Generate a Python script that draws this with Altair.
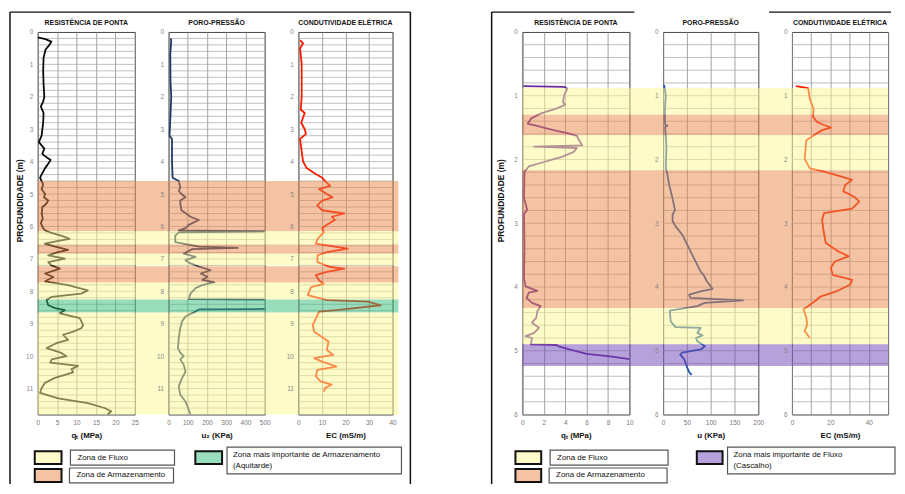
import altair as alt
import pandas as pd

# ---------------- LEFT FIGURE (depth 0 - 11.8 m) ----------------
L_QT_DEPTH = [0.17, 0.22, 0.30, 0.40, 0.55, 0.80, 1.20, 1.60, 2.00, 2.15, 2.30, 2.50, 2.80, 3.00, 3.20,
              3.40, 3.60, 3.75, 3.80, 3.95, 4.10, 4.20, 4.35, 4.50, 4.70, 4.85, 5.00, 5.10, 5.20, 5.30,
              5.40, 5.60, 5.75, 5.90, 6.05, 6.12, 6.18, 6.28, 6.38, 6.45, 6.53, 6.62, 6.72, 6.80, 6.89,
              6.99, 7.10, 7.20, 7.30, 7.45, 7.56, 7.69, 7.81, 7.97, 8.07, 8.17, 8.27, 8.43, 8.52, 8.58,
              8.68, 8.83, 9.04, 9.14, 9.25, 9.34, 9.50, 9.60, 9.75, 9.90, 10.00, 10.10, 10.20, 10.30,
              10.40, 10.50, 10.67, 10.82, 10.98, 11.13, 11.30, 11.45, 11.60, 11.70, 11.80]
L_QT_MPA = [0.0, 2.0, 3.5, 3.0, 2.0, 1.5, 1.4, 1.5, 1.7, 1.4, 0.8, 1.5, 1.4, 1.2, 1.0,
            0.3, 1.7, 1.2, 1.5, 3.3, 2.5, 1.9, 1.2, 0.6, 1.4, 1.0, 1.9, 1.6, 2.7, 2.2,
            1.2, 1.0, 1.3, 0.8, 1.4, 1.9, 3.1, 6.0, 8.2, 5.0, 1.8, 4.5, 7.8, 5.0, 2.7,
            7.0, 2.7, 3.5, 5.7, 1.9, 4.0, 1.9, 7.8, 12.9, 11.2, 3.6, 2.3, 2.7, 4.5, 7.0,
            5.7, 10.8, 11.7, 11.2, 9.0, 6.5, 7.8, 4.8, 2.3, 6.1, 7.4, 3.6, 3.2, 10.4,
            8.7, 9.1, 4.4, 1.9, 1.0, 0.6, 5.3, 12.9, 17.2, 18.9, 18.0]

L_U2_DEPTH = [0.20, 0.25, 0.70, 1.50, 2.00, 2.70, 3.20, 3.30, 4.00, 4.50, 4.60, 4.80, 4.90, 5.00, 5.10,
              5.20, 5.30, 5.50, 5.70, 5.80, 5.95, 6.05, 6.12, 6.15, 6.18, 6.28, 6.48, 6.62, 6.66, 6.70,
              6.84, 6.94, 7.04, 7.14, 7.24, 7.35, 7.45, 7.55, 7.65, 7.72, 7.81, 7.90, 8.07, 8.24, 8.26,
              8.54, 8.56, 8.65, 8.72, 8.78, 8.93, 9.13, 9.44, 9.75, 9.90, 10.00, 10.10, 10.27, 10.48,
              10.68, 10.93, 11.19, 11.40, 11.60, 11.80]
L_U2_KPA = [10, 14, 9, 10, 14, 9, 5, 18, 18, 21, 53, 61, 53, 67, 88,
            61, 61, 67, 114, 158, 105, 88, 53, 560, 53, 35, 35, 158, 360, 123,
            79, 140, 88, 114, 158, 219, 167, 202, 175, 237, 175, 140, 114, 105, 600,
            600, 158, 132, 105, 88, 70, 61, 53, 49, 61, 79, 61, 79, 88,
            70, 53, 61, 88, 102, 114]

L_EC_DEPTH = [0.25, 0.35, 0.50, 1.00, 2.00, 2.40, 2.50, 2.80, 3.00, 3.15, 3.30, 3.80, 4.00, 4.20, 4.35,
              4.50, 4.65, 4.75, 4.85, 5.00, 5.10, 5.20, 5.35, 5.50, 5.60, 5.70, 5.80, 5.95, 6.05, 6.18,
              6.38, 6.53, 6.68, 6.79, 6.89, 7.10, 7.25, 7.30, 7.40, 7.50, 7.66, 7.77, 7.87, 8.12, 8.27,
              8.32, 8.43, 8.58, 8.63, 8.84, 9.04, 9.25, 9.55, 9.81, 9.96, 10.06, 10.17, 10.32, 10.42,
              10.62, 10.78, 10.88, 10.98, 11.10]
L_EC_MSM = [0.7, 2.0, 0.7, 1.4, 1.4, 1.0, 2.7, 1.2, 2.7, 3.2, 0.7, 1.6, 2.0, 3.5, 6.7,
            10.1, 12.0, 13.5, 8.8, 12.1, 14.5, 10.1, 8.0, 10.1, 19.5, 14.2, 15.5, 12.1, 10.1, 10.8,
            8.1, 7.4, 20.9, 12.1, 8.1, 8.1, 13.5, 19.5, 12.1, 7.4, 8.8, 10.8, 5.4, 4.0, 12.1,
            29.6, 35.0, 16.2, 8.8, 7.4, 6.1, 6.7, 12.8, 12.1, 14.8, 6.7, 10.1, 16.2, 8.1,
            7.4, 9.4, 14.1, 11.4, 10.8]

L_ZONE_TOP = [4.60, 6.15, 6.56, 6.84, 7.23, 7.73, 8.25, 8.65]
L_ZONE_BOT = [6.15, 6.56, 6.84, 7.20, 7.73, 8.25, 8.65, 11.80]
L_ZONE_TYPE = ["Armazenamento", "Fluxo", "Armazenamento", "Fluxo", "Armazenamento", "Fluxo",
               "Aquitarde", "Fluxo"]

# ---------------- RIGHT FIGURE (depth 0 - 6 m) ----------------
R_QT_DEPTH = [0.85, 0.86, 0.89, 0.99, 1.10, 1.14, 1.20, 1.28, 1.36, 1.44, 1.46, 1.54, 1.59, 1.63, 1.70,
              1.78, 1.80, 1.82, 1.88, 1.96, 2.04, 2.11, 2.19, 2.60, 2.79, 2.86, 3.40, 3.86, 3.99, 4.06,
              4.09, 4.17, 4.25, 4.30, 4.38, 4.48, 4.56, 4.64, 4.72, 4.77, 4.80, 4.90, 4.91, 4.93, 4.98,
              5.05, 5.09, 5.13]
R_QT_MPA = [0.1, 3.9, 4.2, 3.9, 3.8, 4.0, 3.2, 1.7, 0.8, 0.5, 1.1, 2.9, 4.3, 5.1, 5.3,
            5.6, 1.1, 5.1, 4.8, 3.7, 2.0, 0.6, 0.2, 0.15, 0.45, 0.15, 0.2, 0.15, 0.3, 1.4,
            0.6, 0.4, 0.9, 1.7, 1.4, 1.3, 0.9, 1.55, 1.1, 0.3, 0.9, 0.8, 3.2, 3.4, 4.4,
            6.0, 8.2, 10.0]

R_U_DEPTH = [0.83, 0.99, 1.25, 1.45, 1.47, 1.49, 1.78, 2.14, 2.19, 2.40, 2.61, 2.79, 2.87, 2.97, 3.05,
             3.18, 3.34, 3.55, 3.76, 3.81, 3.91, 4.03, 4.07, 4.12, 4.17, 4.21, 4.25, 4.30, 4.37, 4.54,
             4.63, 4.64, 4.72, 4.76, 4.80, 4.85, 4.93, 4.98, 5.03, 5.06, 5.14, 5.21, 5.27, 5.34, 5.38]
R_U_KPA = [2, 5.7, 3.5, 4.3, 9, 4.3, 7, 5.7, 7.8, 12.8, 19.9, 24.8, 19.9, 20, 26.2,
           40.4, 51, 65, 79, 85, 92, 104, 79, 55, 57, 168, 87, 72, 14, 16,
           26, 79, 72, 83, 69, 72, 88, 79, 40, 36, 45, 48, 51, 55, 60]

R_EC_DEPTH = [0.85, 0.88, 1.05, 1.20, 1.33, 1.41, 1.46, 1.50, 1.54, 1.59, 1.70, 1.99, 2.14, 2.19, 2.27,
              2.32, 2.40, 2.50, 2.58, 2.66, 2.77, 2.84, 2.95, 3.13, 3.31, 3.44, 3.52, 3.60, 3.70, 3.81,
              3.89, 3.96, 4.07, 4.15, 4.22, 4.30, 4.35, 4.48, 4.59, 4.69, 4.80]
R_EC_MSM = [2.0, 8.4, 9.3, 11.2, 11.0, 13.0, 16.7, 20.3, 15.7, 13.0, 7.5, 6.6, 9.3, 16.7, 25.8,
            31.3, 27.7, 26.7, 32.2, 35.0, 31.3, 16.7, 15.7, 16.5, 17.6, 24.0, 29.5, 22.2, 20.3, 21.2,
            31.3, 30.4, 23.1, 14.8, 12.1, 8.4, 6.0, 7.5, 7.9, 6.6, 9.3]

R_ZONE_TOP = [0.88, 1.30, 1.62, 2.17, 4.33, 4.90]
R_ZONE_BOT = [1.30, 1.62, 2.17, 4.33, 4.90, 5.24]
R_ZONE_TYPE = ["Fluxo", "Armazenamento", "Fluxo", "Armazenamento", "Fluxo", "Cascalho"]

# ---------------- shared text / styles ----------------
ZONE_TYPES = ["Fluxo", "Armazenamento", "Aquitarde", "Cascalho"]
ZONE_OVERLAY = ["#FBF78F", "#E7874A", "#35BB7B", "#6F43B7"]

TRACK_TITLES = ["RESISTÊNCIA DE PONTA", "PORO-PRESSÃO", "CONDUTIVIDADE ELÉTRICA"]
Y_TITLE = "PROFUNDIDADE (m)"
L_X_TITLES = ["qₜ (MPa)", "u₂ (KPa)", "EC (mS/m)"]
R_X_TITLES = ["qₜ (MPa)", "u (KPa)", "EC (mS/m)"]
L_X_DOMAINS = [[0, 25], [0, 500], [0, 40]]
L_X_TICKS = [[0, 5, 10, 15, 20, 25], [0, 100, 200, 300, 400, 500], [0, 10, 20, 30, 40]]
R_X_DOMAINS = [[0, 10], [0, 200], [0, 50]]
R_X_TICKS = [[0, 2, 4, 6, 8, 10], [0, 50, 100, 150, 200], [0, 10, 20, 30, 40, 50]]
L_COLORS = ["#0A0A0A", "#1F3864", "#FF1800"]
R_COLORS = ["#6A2A9C", "#1F5AA8", "#FF2000"]

L_LEGEND_ZONES = ["Fluxo", "Armazenamento", "Aquitarde"]
R_LEGEND_ZONES = ["Fluxo", "Armazenamento", "Cascalho"]
L_LEGEND_TEXT = ["Zona de Fluxo", "Zona de Armazenamento",
                 "Zona mais importante de  Armazenamento", "(Aquitarde)"]
R_LEGEND_TEXT = ["Zona de Fluxo", "Zona de Armazenamento",
                 "Zona mais importante de  Fluxo", "(Cascalho)"]

FONT = "Liberation Sans"
H = 386
ZONE_SCALE = alt.Scale(domain=ZONE_TYPES, range=ZONE_OVERLAY)


def legend_layers(zones, texts, lay, top):
    W = 400
    xs = alt.Scale(domain=[0, W], range=[0, W], nice=False, zero=False)
    ys = alt.Scale(domain=[0, 40], range=[top, top + 40], nice=False, zero=False)
    sw = pd.DataFrame({"x": lay["sx"], "x2": lay["sx2"], "y": lay["sy"], "y2": lay["sy2"],
                       "zone": zones})
    bx = pd.DataFrame({"x": lay["bx"], "x2": lay["bx2"], "y": lay["by"], "y2": lay["by2"]})
    tx = pd.DataFrame({"x": lay["tx"], "y": lay["ty"], "t": texts})
    boxes = alt.Chart(bx).mark_rect(fill="white", stroke="#555555", strokeWidth=1.2).encode(
        x=alt.X("x:Q", scale=xs, axis=None), x2="x2:Q",
        y=alt.Y("y:Q", scale=ys, axis=None), y2="y2:Q")
    swatches = alt.Chart(sw).mark_rect(stroke="#111111", strokeWidth=2, fillOpacity=0.5,
                                       strokeOpacity=1).encode(
        x=alt.X("x:Q", scale=xs, axis=None), x2="x2:Q",
        y=alt.Y("y:Q", scale=ys, axis=None), y2="y2:Q",
        color=alt.Color("zone:N", scale=ZONE_SCALE, legend=None))
    labels = alt.Chart(tx).mark_text(align="left", baseline="middle", fontSize=8,
                                     color="#111111", font=FONT).encode(
        x=alt.X("x:Q", scale=xs, axis=None), y=alt.Y("y:Q", scale=ys, axis=None), text="t:N")
    return [boxes, swatches, labels]


def track(depth, vals, color, ztop, zbot, ztype, xdom, xticks, xtitle, title,
          ymax, width, ext, ytitle=None, ytitle_pad=1, xlabel_expr=None, legend=None):
    df = pd.DataFrame({"d": depth, "v": vals})
    zdf = pd.DataFrame({"top": ztop, "bot": zbot, "zone": ztype})
    gdf = pd.DataFrame({"g": [round(i * 0.2, 1) for i in range(1, int(round(ymax / 0.2)))]})
    yscale = alt.Scale(domain=[0, ymax], reverse=True, nice=False, zero=False)
    xax = dict(values=xticks, title=xtitle, grid=True, gridColor="#8a8a8a", gridWidth=0.8,
               ticks=False, domain=False, labelFontSize=6.5, labelColor="#777777",
               labelPadding=5, labelFlush=False, labelOverlap=False, titleFontSize=8,
               titleFontWeight="bold", titleColor="#111111", titlePadding=6)
    if xlabel_expr:
        xax["labelExpr"] = xlabel_expr
    yax = dict(values=list(range(int(ymax) + 1)), grid=False, ticks=False, domain=False,
               labelFontSize=6.5, labelColor="#888888", labelPadding=5, labelOverlap=False)
    if ytitle:
        yax.update(title=ytitle, titleFontSize=8.5, titleFontWeight="bold",
                   titleColor="#111111", titlePadding=ytitle_pad, titleY=H * 0.44)
    else:
        yax["title"] = ""
    grid = alt.Chart(gdf).mark_rule(color="#a4a4a4", strokeWidth=0.7).encode(
        y=alt.Y("g:Q", scale=yscale, axis=None), x=alt.value(0), x2=alt.value(width))
    line = alt.Chart(df).mark_line(color=color, strokeWidth=1.8, clip=True,
                                   strokeJoin="round").encode(
        x=alt.X("v:Q", scale=alt.Scale(domain=xdom, nice=False, zero=False), axis=alt.Axis(**xax)),
        y=alt.Y("d:Q", scale=yscale, axis=alt.Axis(**yax)),
        order=alt.Order("d:Q"),
    )
    zones = alt.Chart(zdf).mark_rect(opacity=0.5).encode(
        y=alt.Y("top:Q", scale=yscale, axis=None), y2="bot:Q",
        x=alt.value(0), x2=alt.value(width + ext),
        color=alt.Color("zone:N", scale=ZONE_SCALE, legend=None),
    )
    layers = [grid, line, zones]
    if legend:
        layers += legend
    return alt.layer(*layers).resolve_scale(x="independent", y="independent").properties(
        width=width, height=H,
        title=alt.TitleParams(text=title, fontSize=7, fontWeight="bold", color="#111111",
                              offset=3, anchor="middle", frame="group"),
    )


SP = 34
LW = [98, 97, 95]
LEXT = [SP, SP, 6]
RW = [108, 96, 97]
REXT = [SP, SP, 0]
SPACER_W = 63
LEG_TOP = 418

# figure frames, drawn from the spacer between the two figures (x relative to spacer's left)
FRAMES = [("v", -420, -20, 456), ("h", -20, -420, -16), ("v", -16, -20, 456),
          ("v", 66, -20, 456), ("h", -20, 66, 210), ("h", -20, 346, 469)]

l_lay = dict(sx=[-3, -3, 159], sx2=[24, 24, 186], sy=[5, 23, 5], sy2=[18, 36, 18],
             bx=[33, 32, 191], bx2=[138, 137, 367], by=[4, 22, 1], by2=[19, 37, 28],
             tx=[40, 39, 197, 197], ty=[11.5, 29.5, 8.5, 19.5])
r_lay = dict(sx=[-7, -7, 176], sx2=[19, 19, 202], sy=[5, 23, 5], sy2=[18, 36, 18],
             bx=[28, 27, 207], bx2=[147, 146, 376], by=[4, 22, 1], by2=[19, 37, 28],
             tx=[35, 34, 213, 213], ty=[11.5, 29.5, 8.5, 19.5])

l_data = [(L_QT_DEPTH, L_QT_MPA), (L_U2_DEPTH, L_U2_KPA), (L_EC_DEPTH, L_EC_MSM)]
r_data = [(R_QT_DEPTH, R_QT_MPA), (R_U_DEPTH, R_U_KPA), (R_EC_DEPTH, R_EC_MSM)]

panels = []
for i in range(3):
    panels.append(track(l_data[i][0], l_data[i][1], L_COLORS[i], L_ZONE_TOP, L_ZONE_BOT,
                        L_ZONE_TYPE, L_X_DOMAINS[i], L_X_TICKS[i], L_X_TITLES[i],
                        TRACK_TITLES[i], 11.8, LW[i], LEXT[i],
                        ytitle=Y_TITLE if i == 0 else None, ytitle_pad=1,
                        legend=legend_layers(L_LEGEND_ZONES, L_LEGEND_TEXT, l_lay, LEG_TOP)
                        if i == 0 else None))

one = pd.DataFrame({"k": [0]})
frame_layers = []
for seg in FRAMES:
    if seg[0] == "v":
        enc = dict(x=alt.value(seg[1]), y=alt.value(seg[2]), y2=alt.value(seg[3]))
    else:
        enc = dict(y=alt.value(seg[1]), x=alt.value(seg[2]), x2=alt.value(seg[3]))
    frame_layers.append(alt.Chart(one).mark_rule(color="#111111", strokeWidth=1.5).encode(**enc))
spacer = alt.layer(*frame_layers).properties(
    width=SPACER_W, height=H, view=alt.ViewBackground(stroke="transparent"))
panels.append(spacer)

for i in range(3):
    panels.append(track(r_data[i][0], r_data[i][1], R_COLORS[i], R_ZONE_TOP, R_ZONE_BOT,
                        R_ZONE_TYPE, R_X_DOMAINS[i], R_X_TICKS[i], R_X_TITLES[i],
                        TRACK_TITLES[i], 6, RW[i], REXT[i],
                        ytitle=Y_TITLE if i == 0 else None, ytitle_pad=8,
                        xlabel_expr="datum.value % 20 == 0 ? datum.label : ''" if i == 2 else None,
                        legend=legend_layers(R_LEGEND_ZONES, R_LEGEND_TEXT, r_lay, LEG_TOP)
                        if i == 0 else None))

chart = alt.hconcat(*panels, spacing=SP, bounds="flush").properties(
    padding={"left": 0, "top": 0, "right": 0, "bottom": 0}
).configure(font=FONT, background="white").configure_view(stroke="#444444", strokeWidth=1)

chart.save("out.html", embed_options={"renderer": "svg", "actions": False})
